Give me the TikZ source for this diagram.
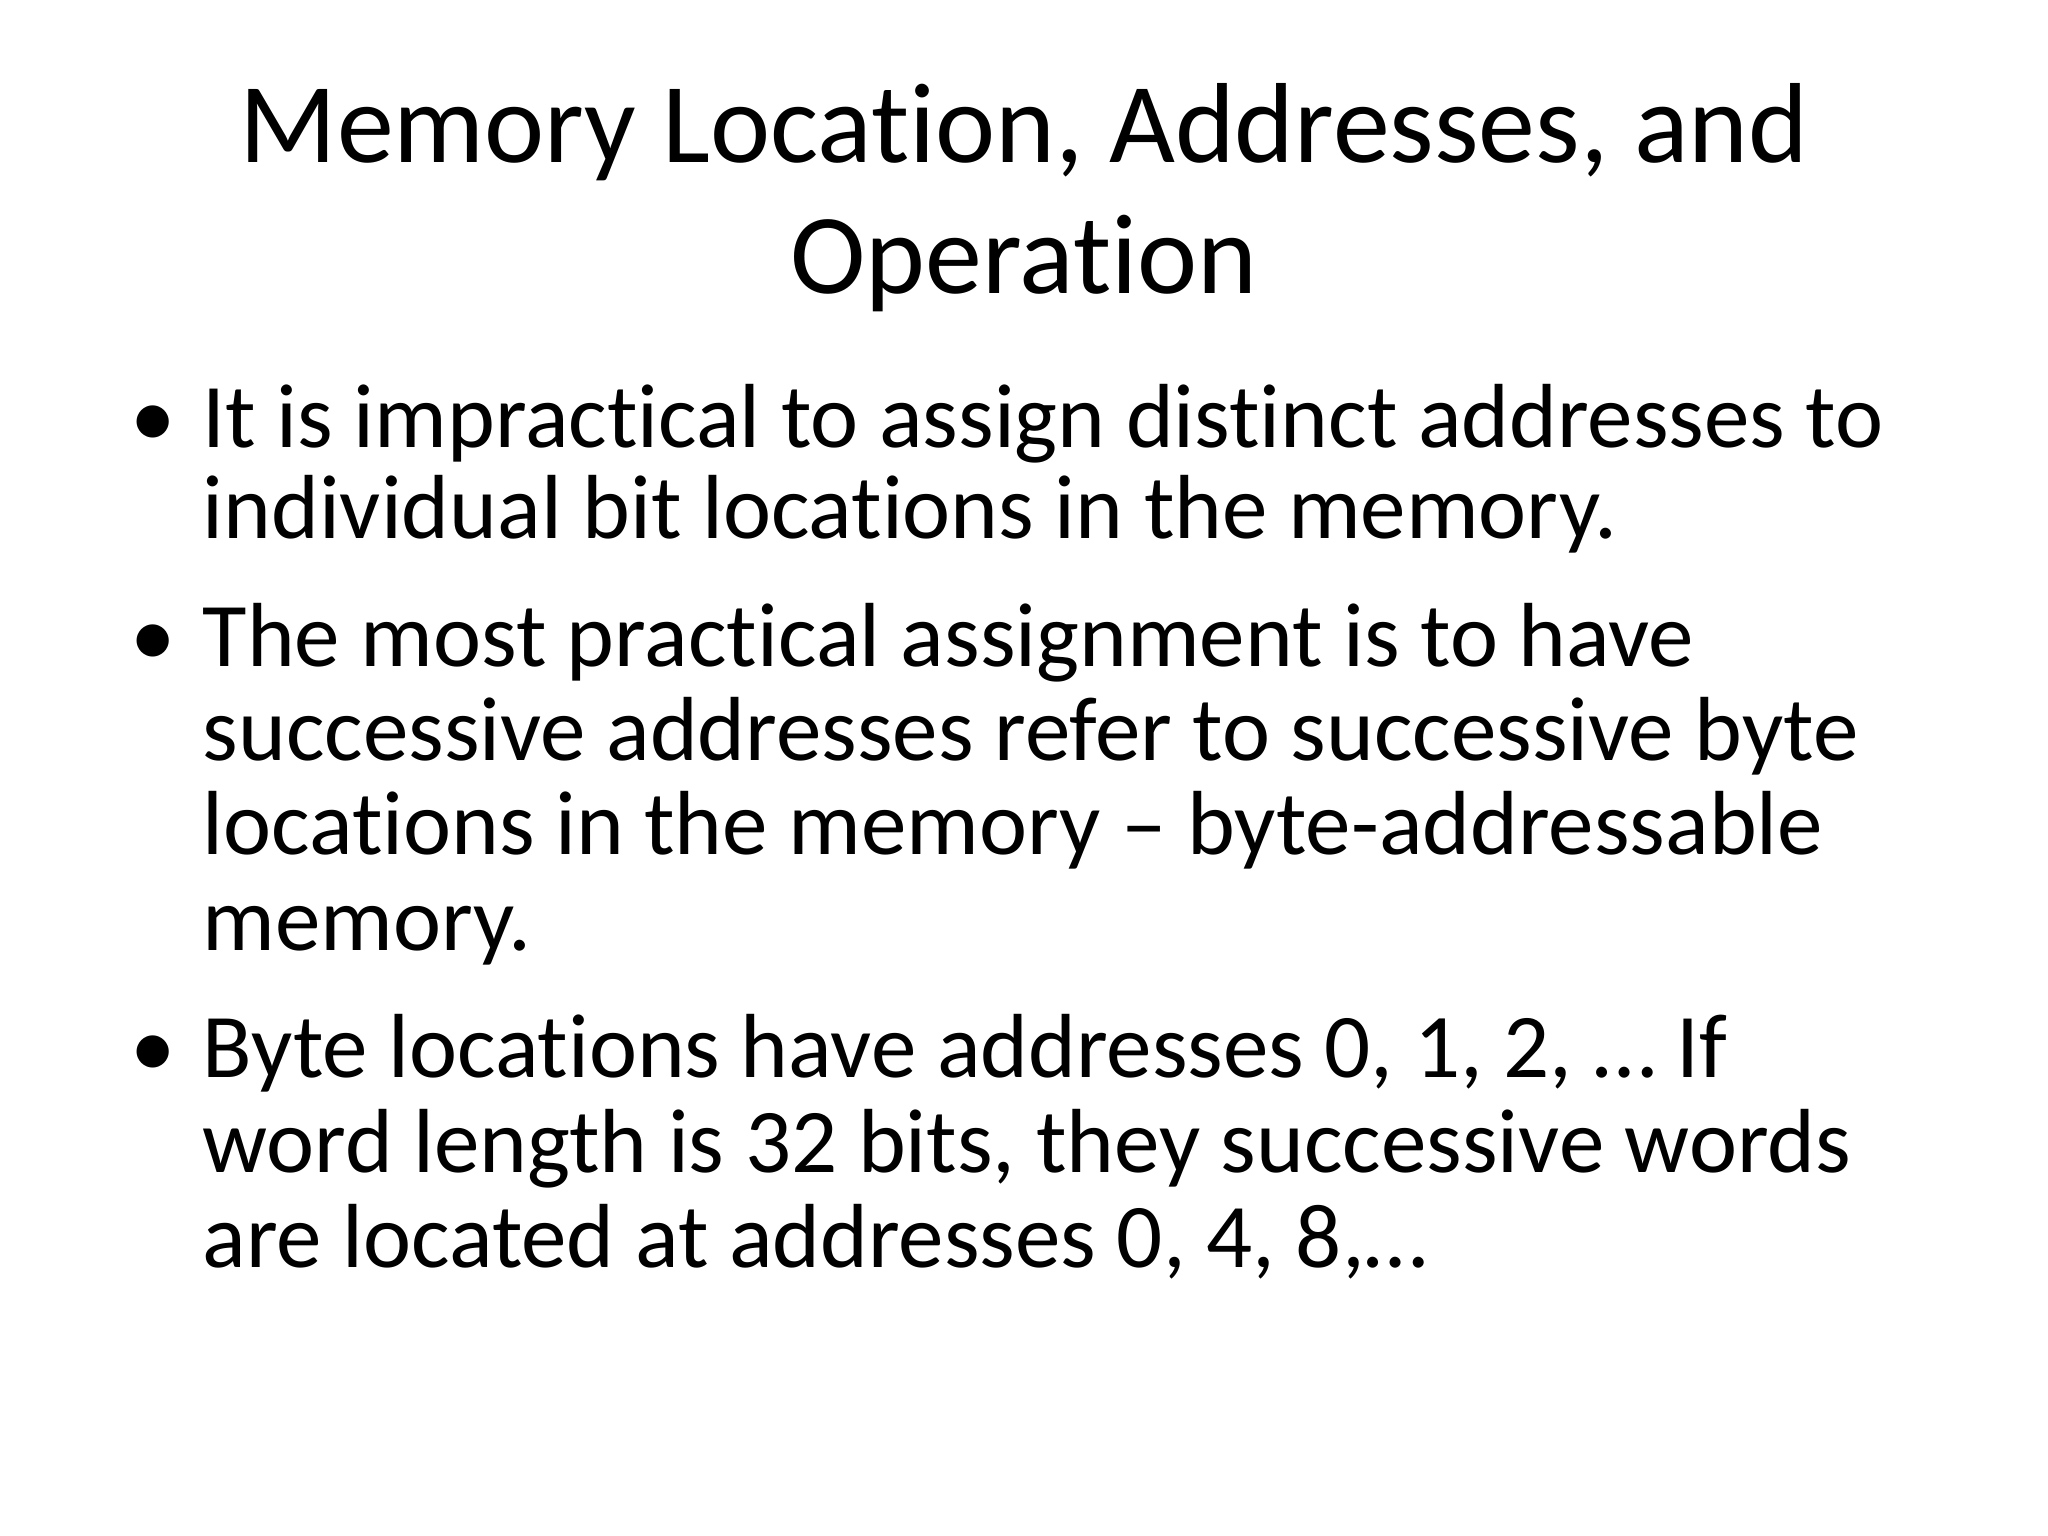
\documentclass[tikz,border=0pt]{standalone}
\usepackage{fontspec}
\setmainfont[Ligatures={TeX,NoCommon}]{Carlito}
\usetikzlibrary{positioning}
\tikzset{
  slidetitle/.style={anchor=base, inner sep=0pt, font=\fontsize{32.4}{32}\selectfont},
  itemtext/.style={anchor=base west, inner sep=0pt, font=\fontsize{25.9}{26}\selectfont},
  dot/.style={anchor=base west, inner sep=0pt, font=\fontsize{25.9}{26}\selectfont}
}
\begin{document}
\begin{tikzpicture}
\useasboundingbox (0,0) rectangle (20.48,-15.36);
\node[slidetitle] (T1) at (10.24,-1.63) {Memory Location, Addresses, and};
\node[slidetitle] (T2) at (10.24,-2.94) {Operation};
% first bullet
\node[dot] (D1) at (1.30,-4.48) {•};
\node[itemtext] (L1) at (2.02,-4.48) {It is impractical to assign distinct addresses to};
\node[itemtext] (L2) at (2.02,-5.39) {individual bit locations in the memory.};
% second bullet
\node[dot] (D2) at (1.30,-6.66) {•};
\node[itemtext] (L3) at (2.02,-6.66) {The most practical assignment is to have};
\node[itemtext] (L4) at (2.02,-7.61) {successive addresses refer to successive byte};
\node[itemtext] (L5) at (2.02,-8.55) {locations in the memory – byte-addressable};
\node[itemtext] (L6) at (2.02,-9.50) {memory.};
% third bullet
\node[dot] (D3) at (1.30,-10.77) {•};
\node[itemtext] (L7) at (2.02,-10.77) {Byte locations have addresses 0, 1, 2, … If};
\node[itemtext] (L8) at (2.02,-11.72) {word length is 32 bits, they successive words};
\node[itemtext] (L9) at (2.02,-12.67) {are located at addresses 0, 4, 8,…};
\end{tikzpicture}
\end{document}
